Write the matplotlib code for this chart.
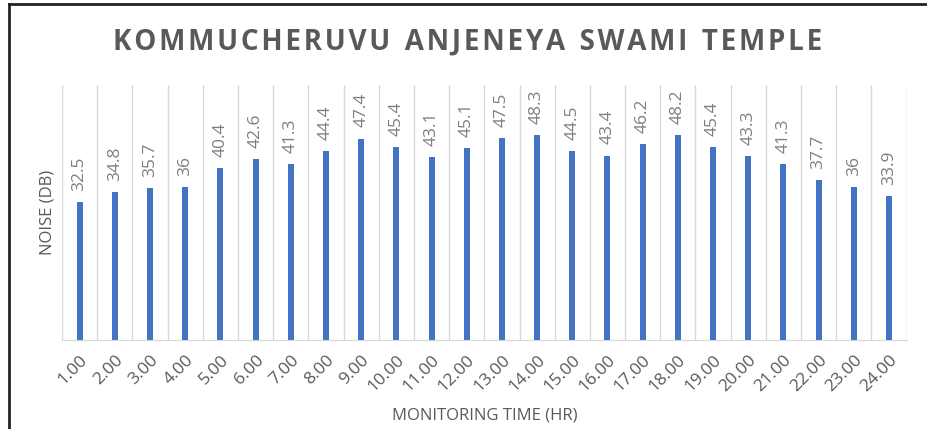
import matplotlib
matplotlib.use("Agg")
import matplotlib.pyplot as plt
import numpy as np
from matplotlib.lines import Line2D

hours = [f"{h:.2f}" for h in range(1, 25)]
noise = [32.5, 34.8, 35.7, 36, 40.4, 42.6, 41.3, 44.4, 47.4, 45.4, 43.1, 45.1,
         47.5, 48.3, 44.5, 43.4, 46.2, 48.2, 45.4, 43.3, 41.3, 37.7, 36, 33.9]
labels = ["32.5", "34.8", "35.7", "36", "40.4", "42.6", "41.3", "44.4", "47.4", "45.4", "43.1", "45.1",
          "47.5", "48.3", "44.5", "43.4", "46.2", "48.2", "45.4", "43.3", "41.3", "37.7", "36", "33.9"]

BAR = "#4472c4"; GRID = "#d9d9d9"; TXT = "#595959"
plt.rcParams["font.family"] = ["Open Sans", "DejaVu Sans"]

fig = plt.figure(figsize=(9.27, 4.29), dpi=100)
ax = fig.add_axes([0.0669, 0.2075, 0.9111, 0.5944])
x = np.arange(len(hours))
ax.bar(x, noise, width=0.17, color=BAR, zorder=3)
ax.set_xlim(-0.5, len(hours) - 0.5)
ax.set_ylim(0, 60)

for b in np.arange(-0.5, len(hours), 1.0):
    ax.axvline(b, color=GRID, lw=1.0, zorder=1)
for s in ["top", "right", "left"]:
    ax.spines[s].set_visible(False)
ax.spines["bottom"].set_color(GRID)
ax.set_yticks([])
ax.set_xticks(x)
ax.set_xticklabels(hours, rotation=45, ha="right", rotation_mode="anchor", fontsize=12.5, color=TXT)
ax.tick_params(axis="x", length=0, pad=9)

for xi, v, t in zip(x, noise, labels):
    ax.annotate(t, (xi, v), textcoords="offset points", xytext=(0, 8), ha="center", va="bottom",
                rotation=90, fontsize=12.5, color="#7f7f7f")

ax.set_xlabel("MONITORING TIME (HR)", fontsize=12, color=TXT, labelpad=9)
ax.set_ylabel("NOISE (DB)", fontsize=12, color=TXT, labelpad=5)

title = "\u200a".join("KOMMUCHERUVU ANJENEYA SWAMI TEMPLE").replace("\u200a \u200a", "  ")
fig.text(0.504, 0.903, title, ha="center", va="center", fontsize=20, weight="bold", color=TXT)

fig.add_artist(Line2D([0.0097, 0.0097], [0, 0.991], color="#222", lw=2, transform=fig.transFigure))
fig.add_artist(Line2D([0.0097, 1.0], [0.991, 0.991], color="#222", lw=2, transform=fig.transFigure))

fig.savefig("out.png", dpi=100)
